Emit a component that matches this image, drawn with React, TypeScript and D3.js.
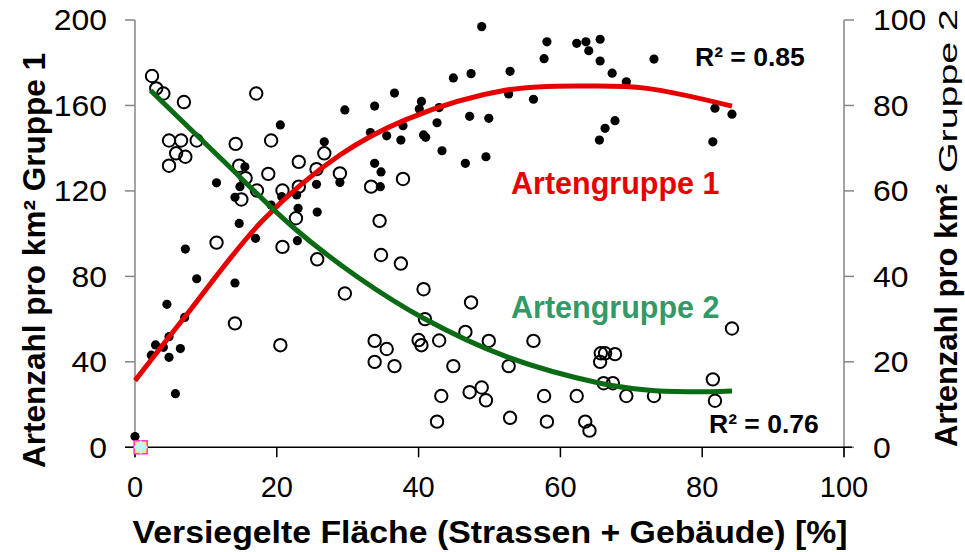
import React from 'react';
import * as d3 from 'd3';

const width = 965;
const height = 552;

// Artengruppe 1 (filled dots, left axis)
const group1X = [0, 2.3, 2.9, 4.0, 4.8, 4.5, 4.8, 5.7, 6.4, 7.0, 7.1, 8.7, 11.5, 14.1, 14.1, 14.7, 14.8, 15.5, 17.0, 22.9, 20.5, 19.2, 20.7, 22.8, 23.0, 25.7, 25.6, 26.7, 28.9, 29.6, 33.2, 33.8, 33.8, 34.7, 34.6, 35.5, 36.6, 37.5, 37.8, 40.1, 40.4, 40.7, 41.0, 42.6, 42.9, 43.3, 44.9, 46.6, 47.2, 47.4, 48.9, 49.5, 49.9, 52.7, 52.9, 56.2, 57.7, 58.1, 62.3, 63.6, 64.0, 65.6, 65.6, 65.5, 66.3, 67.7, 67.3, 69.3, 73.2, 81.8, 81.5, 84.2];
const group1Y = [5.0, 43.1, 47.9, 46.8, 42.1, 66.9, 51.8, 25.1, 46.2, 60.8, 92.8, 78.9, 123.8, 117.0, 76.9, 104.8, 122.0, 131.3, 97.8, 96.7, 150.9, 113.4, 117.3, 118.1, 111.9, 110.1, 123.1, 143.0, 124.0, 157.9, 147.3, 159.7, 132.9, 128.9, 122.0, 145.8, 165.8, 143.8, 150.5, 158.3, 161.9, 146.2, 145.1, 151.9, 159.0, 138.8, 172.9, 132.9, 154.9, 174.9, 196.9, 136.0, 154.0, 165.4, 176.0, 162.9, 181.9, 189.8, 189.1, 189.8, 185.6, 191.0, 180.8, 143.8, 149.3, 152.9, 175.1, 171.1, 181.7, 158.7, 143.0, 155.9];

// Artengruppe 2 (open circles, right axis)
const group2X = [2.4, 3.0, 4.0, 6.9, 17.1, 4.8, 6.5, 8.7, 5.8, 7.1, 4.8, 14.2, 19.2, 14.7, 15.6, 18.8, 23.1, 26.7, 25.6, 28.9, 15.0, 17.2, 20.8, 23.1, 22.7, 11.5, 20.8, 25.7, 29.6, 14.1, 20.5, 33.3, 37.8, 34.5, 34.7, 37.5, 40.7, 47.4, 40.9, 46.6, 33.8, 35.5, 33.8, 36.6, 40.0, 40.4, 42.9, 49.9, 56.2, 44.9, 52.7, 43.2, 47.2, 48.9, 49.5, 42.6, 52.9, 57.7, 58.1, 62.3, 63.5, 64.1, 65.7, 66.3, 67.7, 65.6, 66.1, 67.4, 69.3, 73.2, 81.5, 81.8, 84.2];
const group2Y = [86.9, 84.0, 82.8, 80.8, 82.8, 71.8, 71.8, 71.8, 68.8, 68.0, 65.9, 71.0, 71.8, 65.9, 63.0, 64.0, 66.8, 68.8, 65.1, 64.1, 58.0, 60.1, 60.1, 61.0, 53.6, 47.9, 46.9, 44.0, 36.0, 29.0, 23.9, 61.0, 62.8, 53.0, 45.0, 43.0, 37.0, 33.9, 30.0, 27.0, 24.9, 23.0, 20.0, 19.0, 25.1, 23.9, 25.0, 24.9, 24.9, 19.0, 19.0, 12.0, 12.9, 14.0, 11.0, 6.0, 6.9, 12.0, 6.0, 12.0, 6.0, 3.9, 22.0, 22.0, 21.8, 20.0, 15.0, 15.0, 12.0, 12.0, 15.9, 10.9, 27.8];

// trendlines
const trend1X = [0, 7.05, 18.1, 28.9, 38.3, 52.4, 64.6, 72.2, 84.2];
const trend1Y = [31.2, 61.1, 106.5, 136.8, 153.5, 167.2, 169.1, 168, 159.7];
const trend2X = [2.2, 12.3, 22.3, 31.7, 40.7, 52.4, 65.6, 72.2, 78, 84.2];
const trend2Y = [83.5, 67.3, 51.5, 39.5, 30.2, 21.2, 15.0, 13.4, 13.0, 13.2];

// stray marker at origin
const strayX = [0.8];
const strayY = [0];

const xTicks = [0, 20, 40, 60, 80, 100];
const leftTicks = [0, 40, 80, 120, 160, 200];
const rightTicks = [0, 20, 40, 60, 80, 100];

const font = 'Liberation Sans, Arial, sans-serif';
const red = '#e60000';
const darkGreen = '#0a6b14';
const labelGreen = '#339966';

export default function App() {
  const x = d3.scaleLinear().domain([0, 100]).range([135, 844]);
  const yL = d3.scaleLinear().domain([0, 200]).range([447.3, 20]);
  const yR = d3.scaleLinear().domain([0, 100]).range([447.3, 20]);

  const line1 = d3.line<number>()
    .x((_, i) => x(trend1X[i]))
    .y(d => yL(d))
    .curve(d3.curveCatmullRom);
  const line2 = d3.line<number>()
    .x((_, i) => x(trend2X[i]))
    .y(d => yR(d))
    .curve(d3.curveCatmullRom);

  const x0 = x(0), x1 = x(100), yBase = yL(0);

  return (
    <svg width={width} height={height} style={{ position: 'absolute', left: 0, top: 0, background: '#fff' }} fontFamily={font}>
      {/* left axis */}
      <line x1={x0} x2={x0} y1={yL(200)} y2={yBase + 10} stroke="#868686" strokeWidth={1.5} />
      {leftTicks.map(t => (
        <g key={'l' + t}>
          <line x1={x0 - 10} x2={x0} y1={yL(t)} y2={yL(t)} stroke="#868686" strokeWidth={1.5} />
          <text transform={`translate(107,${yL(t)}) scale(1.1,1)`} dy="0.36em" textAnchor="end" fontSize={29}>{t}</text>
        </g>
      ))}
      {/* right axis */}
      <line x1={x1} x2={x1} y1={yR(100)} y2={yBase + 10} stroke="#868686" strokeWidth={1.5} />
      {rightTicks.map(t => (
        <g key={'r' + t}>
          <line x1={x1} x2={x1 + 10} y1={yR(t)} y2={yR(t)} stroke="#868686" strokeWidth={1.5} />
          <text transform={`translate(873,${yR(t)}) scale(1.1,1)`} dy="0.36em" textAnchor="start" fontSize={29}>{t}</text>
        </g>
      ))}
      {/* x axis */}
      <line x1={x0 - 10} x2={x1 + 8} y1={yBase} y2={yBase} stroke="#000" strokeWidth={1.5} />
      {xTicks.map(t => (
        <g key={'x' + t}>
          <line x1={x(t)} x2={x(t)} y1={yBase} y2={yBase + 10} stroke="#000" strokeWidth={1.5} />
          <text x={x(t)} y={497} textAnchor="middle" fontSize={29}>{t}</text>
        </g>
      ))}

      {/* axis titles */}
      <text x={490} y={543} textAnchor="middle" fontSize={31} fontWeight="bold"
        textLength={715} lengthAdjust="spacingAndGlyphs">
        Versiegelte Fläche (Strassen + Gebäude) [%]
      </text>
      <text transform="translate(45,468) rotate(-90)" fontSize={31} fontWeight="bold"
        textLength={415} lengthAdjust="spacingAndGlyphs">
        Artenzahl pro km² Gruppe 1
      </text>
      <text transform="translate(957,447) rotate(-90)" fontSize={31} fontWeight="bold"
        textLength={263} lengthAdjust="spacingAndGlyphs">
        Artenzahl pro km²
      </text>
      <text transform="translate(957,173) rotate(-90)" fontSize={25}
        textLength={164} lengthAdjust="spacingAndGlyphs">
        Gruppe 2
      </text>

      {/* group 2 open circles */}
      {group2X.map((v, i) => (
        <circle key={'g2' + i} cx={x(v)} cy={yR(group2Y[i])} r={6.2} fill="none" stroke="#000" strokeWidth={2} />
      ))}
      {/* group 1 filled dots */}
      {group1X.map((v, i) => (
        <circle key={'g1' + i} cx={x(v)} cy={yL(group1Y[i])} r={4.6} fill="#000" />
      ))}

      {/* stray marker */}
      {strayX.map((v, i) => (
        <g key={'s' + i} transform={`translate(${x(v)},${yL(strayY[i])})`}>
          <rect x={-6.5} y={-6.5} width={13} height={13} fill="#ffee55" stroke="#ff33cc" strokeWidth={1.5} />
          <path d="M0,-7 L7,0 L0,7 L-7,0 Z" fill="#bff6ff" />
        </g>
      ))}

      {/* trendlines */}
      <path d={line1(trend1Y) || ''} fill="none" stroke={red} strokeWidth={5} />
      <path d={line2(trend2Y) || ''} fill="none" stroke={darkGreen} strokeWidth={5} />

      {/* annotations */}
      <text x={695} y={66} fontSize={26.5} fontWeight="bold">R² = 0.85</text>
      <text x={709} y={433} fontSize={26.5} fontWeight="bold">R² = 0.76</text>
      <text x={511} y={194} fontSize={30.5} fontWeight="bold" fill={red}>Artengruppe 1</text>
      <text x={511} y={318} fontSize={30.5} fontWeight="bold" fill={labelGreen}>Artengruppe 2</text>
    </svg>
  );
}
